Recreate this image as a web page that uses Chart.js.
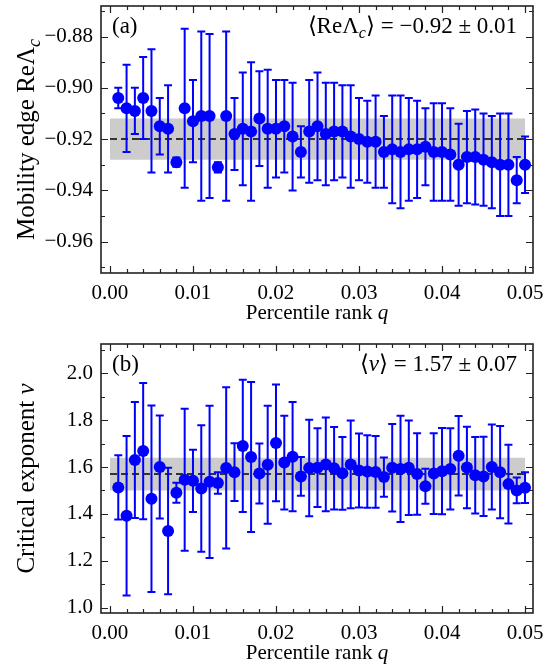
<!DOCTYPE html>
<html><head><meta charset="utf-8">
<script src="https://cdn.jsdelivr.net/npm/chart.js@4/dist/chart.umd.min.js"></script>
<style>
html,body{margin:0;padding:0;background:#fff;}
#wrap{position:relative;width:559px;height:669px;overflow:hidden;}
canvas{position:absolute;left:0;}
</style></head>
<body><div id="wrap">
<canvas id="ca" width="559" height="334" style="top:0px"></canvas>
<canvas id="cb" width="559" height="335" style="top:334px"></canvas>
</div>
<script>
// ---- data ----
const q = [0.001,0.002,0.003,0.004,0.005,0.006,0.007,0.008,0.009,0.010,
           0.011,0.012,0.013,0.014,0.015,0.016,0.017,0.018,0.019,0.020,
           0.021,0.022,0.023,0.024,0.025,0.026,0.027,0.028,0.029,0.030,
           0.031,0.032,0.033,0.034,0.035,0.036,0.037,0.038,0.039,0.040,
           0.041,0.042,0.043,0.044,0.045,0.046,0.047,0.048,0.049,0.050];
const reLambda = [-0.904,-0.908,-0.909,-0.904,-0.909,-0.915,-0.916,-0.929,-0.908,-0.913,
                  -0.911,-0.911,-0.931,-0.911,-0.918,-0.916,-0.917,-0.912,-0.916,-0.916,
                  -0.915,-0.919,-0.925,-0.917,-0.915,-0.918,-0.917,-0.917,-0.919,-0.920,
                  -0.921,-0.921,-0.925,-0.924,-0.925,-0.924,-0.924,-0.923,-0.925,-0.925,
                  -0.926,-0.930,-0.927,-0.927,-0.928,-0.929,-0.930,-0.930,-0.936,-0.930];
const reLambdaErr = [0.004,0.017,0.009,0.016,0.024,0.011,0.017,0.0018,0.031,0.016,
                     0.033,0.032,0.002,0.033,0.014,0.022,0.027,0.0185,0.023,0.019,
                     0.018,0.021,0.010,0.020,0.021,0.020,0.019,0.018,0.020,0.016,
                     0.016,0.018,0.014,0.021,0.022,0.020,0.019,0.015,0.019,0.019,
                     0.018,0.016,0.018,0.0185,0.018,0.018,0.020,0.020,0.009,0.011];
const nu = [1.513,1.392,1.630,1.668,1.465,1.600,1.327,1.490,1.546,1.541,
            1.508,1.537,1.532,1.596,1.578,1.690,1.643,1.572,1.610,1.703,
            1.619,1.644,1.560,1.596,1.597,1.611,1.595,1.573,1.611,1.585,
            1.581,1.579,1.557,1.597,1.592,1.597,1.570,1.518,1.572,1.582,
            1.592,1.648,1.598,1.565,1.560,1.600,1.578,1.527,1.500,1.512];
const nuErr = [0.137,0.340,0.248,0.291,0.398,0.220,0.270,0.043,0.303,0.133,
               0.270,0.325,0.046,0.344,0.123,0.282,0.320,0.128,0.252,0.249,
               0.200,0.233,0.083,0.206,0.168,0.200,0.176,0.155,0.187,0.158,
               0.155,0.153,0.084,0.187,0.227,0.202,0.174,0.075,0.172,0.184,
               0.173,0.170,0.174,0.163,0.169,0.181,0.197,0.168,0.055,0.066];
const xTickValues = [0.00,0.01,0.02,0.03,0.04,0.05];
const yTicksA = [-0.96,-0.94,-0.92,-0.90,-0.88];
const yTicksB = [1.0,1.2,1.4,1.6,1.8,2.0];
const meanA = -0.92, bandA = 0.008;
const meanB = 1.57, bandB = 0.07;

// ---- helpers ----
const FONT = "'Liberation Serif', 'Times New Roman', serif";
const FS = 21;
function fnt(style, size){ return (style ? style + ' ' : '') + size + 'px ' + FONT; }
// segs: [text, kind] kind: 'n' normal, 'i' italic, 's' italic subscript
function segFont(kind, fs){
  if(kind === 'i') return fnt('italic', fs);
  if(kind === 's') return fnt('italic', Math.round(fs*0.7));
  return fnt('', fs);
}
function drawRich(ctx, segs, x, y, align, fs){
  fs = fs || FS;
  let w = 0;
  segs.forEach(s => { ctx.font = segFont(s[1], fs); w += ctx.measureText(s[0]).width; });
  let cx = align === 'center' ? x - w/2 : (align === 'right' ? x - w : x);
  ctx.textAlign = 'left'; ctx.textBaseline = 'alphabetic'; ctx.fillStyle = '#000';
  segs.forEach(s => {
    ctx.font = segFont(s[1], fs);
    ctx.fillText(s[0], cx, s[1] === 's' ? y + fs*0.22 : y);
    cx += ctx.measureText(s[0]).width;
  });
}

const errorBars = {
  id: 'errorBars',
  beforeDatasetDraw(chart, args){
    const ds = chart.data.datasets[args.index];
    if(!ds.errors) return;
    const {ctx, scales:{x, y}} = chart;
    ctx.save();
    ctx.strokeStyle = ds.borderColor; ctx.lineWidth = 2;
    ds.data.forEach((p, i) => {
      const e = ds.errors[i];
      const px = x.getPixelForValue(p.x);
      const y1 = y.getPixelForValue(p.y + e), y2 = y.getPixelForValue(p.y - e);
      ctx.beginPath();
      ctx.moveTo(px, y1); ctx.lineTo(px, y2);
      ctx.moveTo(px-4, y1); ctx.lineTo(px+4, y1);
      ctx.moveTo(px-4, y2); ctx.lineTo(px+4, y2);
      ctx.stroke();
    });
    ctx.restore();
  }
};

const frameTicks = {
  id: 'frameTicks',
  afterDraw(chart, args, o){
    const {ctx, chartArea:a, scales:{x, y}} = chart;
    ctx.save();
    ctx.strokeStyle = '#222'; ctx.lineWidth = 1.2;
    ctx.beginPath();
    for(let k = 0; k*o.xMinor <= o.xMax + 1e-9; k++){
      const v = k*o.xMinor;
      const major = Math.abs(v/o.xMajor - Math.round(v/o.xMajor)) < 1e-6;
      const L = major ? 7 : 4;
      const px = Math.round(x.getPixelForValue(v)) + 0.5;
      ctx.moveTo(px, a.bottom); ctx.lineTo(px, a.bottom - L);
      ctx.moveTo(px, a.top); ctx.lineTo(px, a.top + L);
    }
    for(let k = Math.ceil(o.yMin/o.yMinor - 1e-6); k*o.yMinor <= o.yMax + 1e-9; k++){
      const v = k*o.yMinor;
      const major = Math.abs(v/o.yMajor - Math.round(v/o.yMajor)) < 1e-6;
      const L = major ? 7 : 4;
      const py = Math.round(y.getPixelForValue(v)) + 0.5;
      ctx.moveTo(a.left, py); ctx.lineTo(a.left + L, py);
      ctx.moveTo(a.right, py); ctx.lineTo(a.right - L, py);
    }
    ctx.stroke();
    ctx.lineWidth = 1.6; ctx.strokeStyle = '#222';
    ctx.strokeRect(a.left, a.top, a.right - a.left, a.bottom - a.top);
    ctx.restore();
  }
};

const texts = {
  id: 'texts',
  afterDraw(chart, args, o){
    const {ctx, chartArea:a} = chart;
    ctx.save();
    drawRich(ctx, [['Percentile rank ', 'n'], ['q', 'i']], (a.left + a.right)/2, a.bottom + o.xTitleOffset, 'center');
    ctx.save();
    ctx.translate(o.yTitleX, (a.top + a.bottom)/2);
    ctx.rotate(-Math.PI/2);
    drawRich(ctx, o.yTitle, 0, 0, 'center', o.yTitleFS);
    ctx.restore();
    drawRich(ctx, [[o.panel, 'n']], a.left + 11, a.top + o.annotOffset, 'left', o.annotFS);
    drawRich(ctx, o.annot, a.right - 16, a.top + o.annotOffset, 'right', o.annotFS);
    ctx.restore();
  }
};

function makePanel(id, cfg){
  const pts = q.map((v, i) => ({x: v, y: cfg.values[i]}));
  return new Chart(document.getElementById(id), {
    type: 'line',
    data: {
      datasets: [
        {data: pts, errors: cfg.errors, showLine: false, borderColor: '#0000ff', order: 0,
         backgroundColor: '#0000ff', pointRadius: 6, pointBorderWidth: 0, pointHoverRadius: 6},
        {data: [{x: 0, y: cfg.mean}, {x: 0.05, y: cfg.mean}], borderColor: '#000', borderWidth: 1.5,
         borderDash: [7, 4], pointRadius: 0, fill: false, order: 1},
        {data: [{x: 0, y: cfg.mean + cfg.band}, {x: 0.05, y: cfg.mean + cfg.band}], fill: '+1', order: 2,
         backgroundColor: 'rgb(204,204,204)', borderColor: 'rgba(0,0,0,0)', borderWidth: 0, pointRadius: 0},
        {data: [{x: 0, y: cfg.mean - cfg.band}, {x: 0.05, y: cfg.mean - cfg.band}], fill: false, order: 3,
         borderColor: 'rgba(0,0,0,0)', borderWidth: 0, pointRadius: 0}
      ]
    },
    options: {
      responsive: false, animation: false, events: [],
      layout: {padding: {left: 0, right: 26, top: cfg.top, bottom: 0}},
      plugins: {legend: {display: false}, tooltip: {enabled: false},
        frameTicks: cfg.ticks, texts: cfg.texts},
      scales: {
        x: {type: 'linear', min: -0.00108, max: 0.05096,
            grid: {display: false, drawTicks: false}, border: {display: false},
            afterFit: s => { s.height = cfg.xAxisH; s.paddingLeft = 0; s.paddingRight = 0; },
            afterBuildTicks: s => { s.ticks = xTickValues.map(v => ({value: v})); },
            ticks: {padding: 8, maxRotation: 0, autoSkip: false, color: '#000',
                    font: {family: FONT, size: FS}, callback: v => v.toFixed(2)}},
        y: {type: 'linear', min: cfg.yMin, max: cfg.yMax,
            grid: {display: false, drawTicks: false}, border: {display: false},
            afterFit: s => { s.width = 101; s.paddingTop = 0; s.paddingBottom = 0; },
            afterBuildTicks: s => { s.ticks = cfg.yTicks.map(v => ({value: v})); },
            ticks: {padding: 8, autoSkip: false, color: '#000',
                    font: {family: FONT, size: FS},
                    callback: v => v.toFixed(cfg.dec).replace('-', '\u2212')}}
      }
    },
    plugins: [errorBars, frameTicks, texts]
  });
}

makePanel('ca', {
  values: reLambda, errors: reLambdaErr, mean: meanA, band: bandA,
  yMin: -0.9722, yMax: -0.8681, yTicks: yTicksA, dec: 2, top: 5, xAxisH: 61,
  ticks: {xMinor: 0.002, xMajor: 0.01, xMax: 0.05,
          yMin: -0.9722, yMax: -0.8681, yMinor: 0.01, yMajor: 0.02},
  texts: {xTitleOffset: 46, yTitleX: 34, yTitleFS: 25, annotOffset: 27, annotFS: 23, panel: '(a)',
          yTitle: [['Mobility edge Re\u039B', 'n'], ['c', 's']],
          annot: [['\u27E8Re\u039B', 'n'], ['c', 's'], ['\u27E9 = \u22120.92 \u00B1 0.01', 'n']]}
});
makePanel('cb', {
  values: nu, errors: nuErr, mean: meanB, band: bandB,
  yMin: 0.977, yMax: 2.125, yTicks: yTicksB, dec: 1, top: 10, xAxisH: 56,
  ticks: {xMinor: 0.002, xMajor: 0.01, xMax: 0.05,
          yMin: 0.977, yMax: 2.125, yMinor: 0.1, yMajor: 0.2},
  texts: {xTitleOffset: 46, yTitleX: 34, yTitleFS: 25, annotOffset: 27, annotFS: 23, panel: '(b)',
          yTitle: [['Critical exponent ', 'n'], ['\u03BD', 'i']],
          annot: [['\u27E8', 'n'], ['\u03BD', 'i'], ['\u27E9 = 1.57 \u00B1 0.07', 'n']]}
});
</script>
</body></html>
